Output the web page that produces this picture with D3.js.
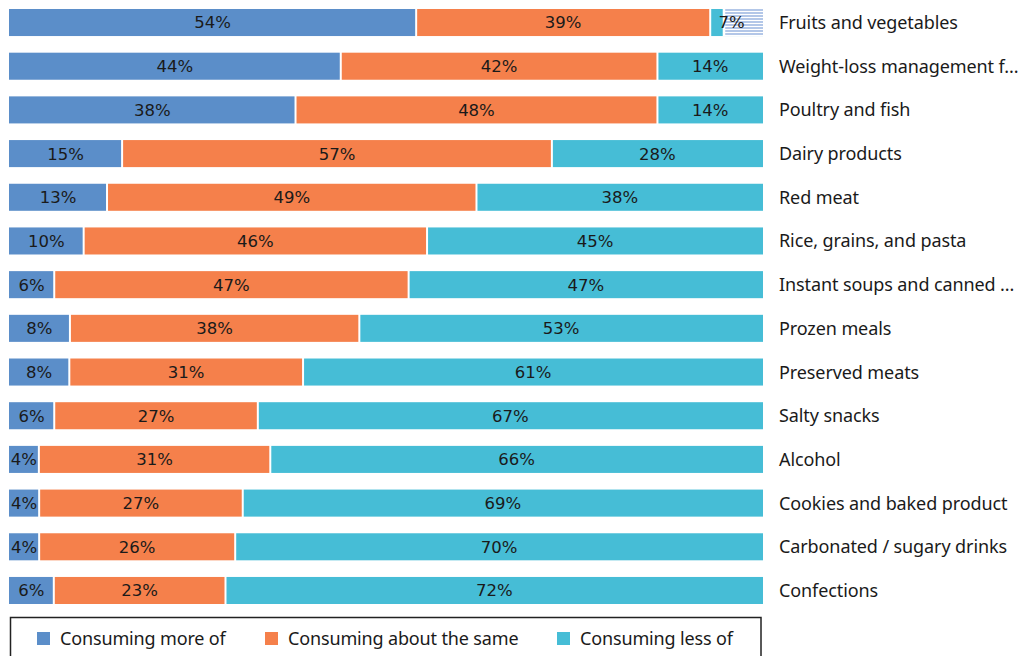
<!DOCTYPE html>
<html>
<head>
<meta charset="utf-8">
<script src="https://cdn.jsdelivr.net/npm/d3@7"></script>
<style>
  html, body { margin: 0; padding: 0; background: #fff; }
  svg { display: block; }
</style>
</head>
<body>
<svg id="chart" width="1021" height="656"></svg>
<script>
// Food categories, top to bottom
const categories = [
  "Fruits and vegetables",
  "Weight-loss management f...",
  "Poultry and fish",
  "Dairy products",
  "Red meat",
  "Rice, grains, and pasta",
  "Instant soups and canned ...",
  "Prozen meals",
  "Preserved meats",
  "Salty snacks",
  "Alcohol",
  "Cookies and baked product",
  "Carbonated / sugary drinks",
  "Confections"
];

// Share of respondents (%) per category
const moreOf   = [54, 44, 38, 15, 13, 10, 6, 8, 8, 6, 4, 4, 4, 6];
const sameAs   = [39, 42, 48, 57, 49, 46, 47, 38, 31, 27, 31, 27, 26, 23];
const lessOf   = [7, 14, 14, 28, 38, 45, 47, 53, 61, 67, 66, 69, 70, 72];

const seriesNames = ["Consuming more of", "Consuming about the same", "Consuming less of"];
const seriesColors = ["#5b8ec9", "#f5804b", "#46bdd6"];

// Segment drawn with the striped highlight
const hatchedCells = [{ category: "Fruits and vegetables", series: 2 }];

const svg = d3.select("#chart");

// Pattern of thin horizontal stripes
const defs = svg.append("defs");
const pat = defs.append("pattern")
  .attr("id", "stripes")
  .attr("patternUnits", "userSpaceOnUse")
  .attr("width", 6).attr("height", 3);
pat.append("rect").attr("width", 6).attr("height", 3).attr("fill", "#ffffff");
pat.append("rect").attr("width", 6).attr("height", 2).attr("fill", "#b3c7e8");

const x = d3.scaleLinear().domain([0, 1]).range([9, 763]);
const y = d3.scaleBand().domain(categories).range([9, 604]).paddingInner(0.381).paddingOuter(0);

const values = [moreOf, sameAs, lessOf];
const rows = categories.map((c, i) => {
  const vals = values.map(v => v[i]);
  const total = d3.sum(vals);
  let acc = 0;
  const segs = vals.map((v, s) => {
    const start = acc / total;
    acc += v;
    return { category: c, series: s, value: v, start, end: acc / total };
  });
  return { category: c, segs };
});

const rowG = svg.append("g").selectAll("g.row")
  .data(rows).join("g")
  .attr("class", "row")
  .attr("transform", d => `translate(0,${y(d.category)})`);

const bh = y.bandwidth();

const seg = rowG.selectAll("g.seg")
  .data(d => d.segs).join("g").attr("class", "seg");

seg.append("rect")
  .attr("x", d => x(d.start) + (d.series > 0 ? 1 : 0))
  .attr("y", 0)
  .attr("height", bh)
  .attr("width", d => x(d.end) - x(d.start) - (d.series > 0 ? 1 : 0) - (d.series < 2 ? 1 : 0))
  .attr("fill", d => seriesColors[d.series]);

// Striped highlight over part of the segment
const isHatched = d => hatchedCells.some(h => h.category === d.category && h.series === d.series);
const hatched = seg.filter(isHatched);
hatched.append("rect")
  .attr("x", d => x(d.start) + 12.5)
  .attr("y", 0)
  .attr("height", bh)
  .attr("width", d => x(d.end) - x(d.start) - 12.5)
  .attr("fill", "#ffffff");
hatched.append("rect")
  .attr("x", d => x(d.start) + 15)
  .attr("y", 0)
  .attr("height", bh)
  .attr("width", d => x(d.end) - x(d.start) - 15)
  .attr("fill", "url(#stripes)");

seg.append("text")
  .attr("x", d => (x(d.start) + x(d.end)) / 2 - (isHatched(d) ? 5 : 0))
  .attr("y", bh / 2)
  .attr("dy", "0.36em")
  .attr("text-anchor", "middle")
  .attr("font-family", "DejaVu Sans, sans-serif")
  .attr("font-size", 16.5)
  .attr("fill", "#1a1a1a")
  .text(d => d.value + "%");

// Category names on the right
rowG.append("text")
  .attr("x", 779)
  .attr("y", bh / 2)
  .attr("dy", "0.36em")
  .attr("font-family", "Noto Sans, sans-serif")
  .attr("font-size", 18)
  .attr("letter-spacing", -0.1)
  .attr("fill", "#1a1a1a")
  .text(d => d.category);

// Legend
const legend = svg.append("g");
legend.append("rect")
  .attr("x", 10.5).attr("y", 617.5)
  .attr("width", 750.5).attr("height", 50)
  .attr("fill", "none")
  .attr("stroke", "#222")
  .attr("stroke-width", 1.5);

const legendX = [37, 265, 557];
const li = legend.selectAll("g.item")
  .data(seriesNames).join("g")
  .attr("class", "item")
  .attr("transform", (d, i) => `translate(${legendX[i]},632)`);
li.append("rect")
  .attr("width", 13).attr("height", 13)
  .attr("fill", (d, i) => seriesColors[i]);
li.append("text")
  .attr("x", 23)
  .attr("y", 6.5)
  .attr("dy", "0.36em")
  .attr("font-family", "Noto Sans, sans-serif")
  .attr("font-size", 18)
  .attr("letter-spacing", -0.15)
  .attr("fill", "#1a1a1a")
  .text(d => d);
</script>
</body>
</html>
